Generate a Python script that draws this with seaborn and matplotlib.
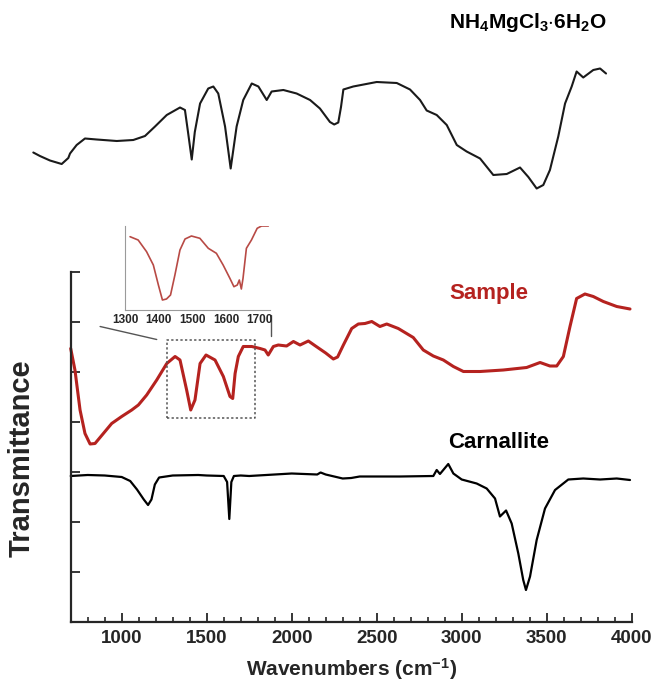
import numpy as np
import pandas as pd
import matplotlib
matplotlib.use("Agg")
import matplotlib.pyplot as plt
import seaborn as sns

# ---------------- data ----------------
# NH4MgCl3·6H2O (top, offset spectrum)
nh4_x = [480, 519, 578, 647, 686, 696, 735, 784, 853, 971, 1068, 1137, 1196, 1265, 1343,
         1372, 1390, 1412, 1430, 1461, 1509, 1539, 1568, 1608, 1641, 1676, 1715, 1765,
         1804, 1853, 1882, 1951, 2029, 2108, 2166, 2225, 2250, 2274, 2290, 2304, 2362,
         2500, 2618, 2696, 2755, 2794, 2853, 2912, 2971, 3029, 3108, 3186, 3265, 3343,
         3392, 3441, 3480, 3519, 3568, 3608, 3647, 3676, 3715, 3774, 3814, 3849]
nh4_y = [9.39, 9.32, 9.23, 9.16, 9.28, 9.37, 9.54, 9.67, 9.65, 9.62, 9.64, 9.72, 9.91, 10.14, 10.29,
         10.24, 9.80, 9.25, 9.80, 10.37, 10.67, 10.71, 10.57, 9.91, 9.07, 9.91, 10.44, 10.77,
         10.71, 10.44, 10.61, 10.64, 10.57, 10.44, 10.27, 10.00, 9.95, 9.99, 10.30, 10.65, 10.71,
         10.80, 10.78, 10.65, 10.44, 10.23, 10.14, 9.94, 9.54, 9.41, 9.27, 8.94, 8.96, 9.09,
         8.90, 8.67, 8.74, 9.04, 9.71, 10.37, 10.71, 11.01, 10.89, 11.04, 11.07, 10.97]

# Sample (red)
sample_x = [700, 725, 755, 784, 814, 843, 892, 941, 1000, 1059, 1098, 1147, 1206, 1265, 1314,
            1343, 1382, 1406, 1431, 1461, 1496, 1549, 1598, 1637, 1653, 1667, 1686, 1715,
            1765, 1814, 1843, 1862, 1892, 1921, 1970, 2010, 2049, 2098, 2140, 2200, 2245,
            2270, 2304, 2353, 2392, 2431, 2471, 2519, 2559, 2627, 2715, 2774, 2833, 2892,
            2951, 3010, 3108, 3245, 3382, 3461, 3519, 3559, 3598, 3637, 3676, 3725, 3774,
            3833, 3912, 3990]
sample_y = [5.47, 5.04, 4.24, 3.77, 3.56, 3.57, 3.77, 3.97, 4.11, 4.24, 4.34, 4.54, 4.84, 5.17, 5.31,
            5.24, 4.64, 4.24, 4.44, 5.17, 5.34, 5.24, 4.91, 4.51, 4.47, 4.97, 5.31, 5.51,
            5.51, 5.47, 5.44, 5.34, 5.51, 5.54, 5.52, 5.61, 5.54, 5.62, 5.52, 5.38, 5.26,
            5.30, 5.54, 5.87, 5.96, 5.97, 6.01, 5.91, 5.96, 5.87, 5.69, 5.44, 5.32, 5.24,
            5.11, 5.01, 5.01, 5.04, 5.09, 5.19, 5.12, 5.12, 5.31, 5.91, 6.47, 6.56, 6.51,
            6.41, 6.31, 6.26]

# Carnallite (black)
carn_x = [700, 800, 900, 1000, 1050, 1090, 1130, 1155, 1175, 1195, 1220, 1300, 1450, 1500,
          1600, 1620, 1633, 1645, 1660, 1700, 1750, 1850, 2000, 2150, 2170, 2200, 2300, 2350,
          2400, 2500, 2637, 2833, 2853, 2872, 2921, 2951, 3000, 3088, 3147, 3196, 3225,
          3261, 3294, 3333, 3362, 3378, 3402, 3441, 3490, 3549, 3627, 3715, 3814, 3912, 3990]
carn_y = [2.92, 2.94, 2.93, 2.90, 2.82, 2.65, 2.45, 2.34, 2.45, 2.75, 2.89, 2.93, 2.94, 2.93,
          2.92, 2.80, 2.06, 2.80, 2.92, 2.93, 2.92, 2.94, 2.97, 2.95, 2.99, 2.95, 2.87, 2.88,
          2.91, 2.91, 2.91, 2.92, 3.04, 2.96, 3.16, 2.97, 2.85, 2.77, 2.67, 2.47, 2.11,
          2.23, 1.97, 1.37, 0.84, 0.64, 0.91, 1.64, 2.27, 2.64, 2.85, 2.87, 2.85, 2.87, 2.84]

# Inset (zoom of the sample, 1300-1700 cm-1)
inset_x = [1315, 1339, 1364, 1384, 1399, 1411, 1423, 1435, 1448, 1463, 1478, 1497, 1522, 1547,
           1571, 1591, 1611, 1623, 1633, 1639, 1645, 1650, 1660, 1675, 1692, 1705, 1725]
inset_y = [7.33, 7.00, 5.83, 4.50, 2.50, 1.00, 1.10, 1.50, 3.50, 6.00, 7.10, 7.40, 7.17, 6.17,
           5.67, 4.50, 3.17, 2.33, 2.50, 3.00, 2.10, 3.17, 6.17, 7.00, 8.17, 8.40, 8.40]

x_ticks_major = [1000, 1500, 2000, 2500, 3000, 3500, 4000]
inset_ticks = [1300, 1400, 1500, 1600, 1700]

# zoom-box annotation geometry (in main-axes data units)
box_x = [1265, 1784]
box_y = [4.09, 5.63]
connector_1 = ([873, 1206], [5.91, 5.65])
connector_2 = ([1876, 1876], [6.14, 5.71])

# ---------------- style ----------------
sns.set_style("ticks")
plt.rcParams["font.family"] = ["Liberation Sans", "DejaVu Sans"]
plt.rcParams["font.weight"] = "bold"
plt.rcParams["mathtext.fontset"] = "custom"
plt.rcParams["mathtext.rm"] = "Liberation Sans:bold"
plt.rcParams["mathtext.bf"] = "Liberation Sans:bold"
plt.rcParams["mathtext.it"] = "Liberation Sans:bold"

RED = "#b5221f"

W, H = 653, 686
fig = plt.figure(figsize=(W / 100, H / 100), dpi=100)
ax_l, ax_r, ax_b, ax_t = 70.7, 631.7, 622, 272
ax = fig.add_axes([ax_l / W, (H - ax_b) / H, (ax_r - ax_l) / W, (ax_b - ax_t) / H])

df_nh4 = pd.DataFrame({"x": nh4_x, "y": nh4_y})
df_s = pd.DataFrame({"x": sample_x, "y": sample_y})
df_c = pd.DataFrame({"x": carn_x, "y": carn_y})

sns.lineplot(data=df_nh4, x="x", y="y", ax=ax, color="#1a1a1a", lw=1.5,
             estimator=None, sort=False, clip_on=False)
sns.lineplot(data=df_s, x="x", y="y", ax=ax, color=RED, lw=2.2,
             estimator=None, sort=False, clip_on=False)
sns.lineplot(data=df_c, x="x", y="y", ax=ax, color="black", lw=1.6,
             estimator=None, sort=False, clip_on=False)

ax.set_xlim(700, 4000)
ax.set_ylim(0, 7)
ax.set_xticks(x_ticks_major)
ax.set_xticks(np.arange(800, 4000, 100), minor=True)
ax.set_yticks(np.arange(0, 8, 1))
ax.set_yticklabels([])
ax.tick_params(axis="x", which="major", direction="in", length=6.5, width=1.3,
               labelsize=13.5, pad=6)
ax.tick_params(axis="x", which="minor", direction="in", length=3.5, width=1.2)
ax.tick_params(axis="y", which="major", direction="in", length=6.5, width=1.3)
for lab in ax.get_xticklabels():
    lab.set_fontweight("bold")
sns.despine(ax=ax, top=True, right=True)
for s in ["left", "bottom"]:
    ax.spines[s].set_linewidth(1.6)
ax.set_xlabel(r"Wavenumbers (cm$^{-1}$)", fontsize=15, fontweight="bold", labelpad=6)
ax.set_ylabel("Transmittance", fontsize=21, fontweight="bold")
ax.yaxis.set_label_coords(-0.063, 0.469)

# labels
ax.text(489 / W, 1 - 293 / H, "Sample", transform=fig.transFigure, color=RED,
        fontsize=16, fontweight="bold", ha="center", va="center")
ax.text(499 / W, 1 - 443 / H, "Carnallite", transform=fig.transFigure, color="black",
        fontsize=16, fontweight="bold", ha="center", va="center")
ax.text(528 / W, 1 - 23 / H, r"NH$_4$MgCl$_3$$\cdot$6H$_2$O", transform=fig.transFigure,
        color="black", fontsize=15, fontweight="bold", ha="center", va="center")

# dashed zoom box and connectors
ax.plot([box_x[0], box_x[1], box_x[1], box_x[0], box_x[0]],
        [box_y[0], box_y[0], box_y[1], box_y[1], box_y[0]],
        color="#555555", lw=1.1, ls=(0, (1.5, 1.5)), clip_on=False)
ax.plot(connector_1[0], connector_1[1], color="#555555", lw=1.0, clip_on=False)
ax.plot(connector_2[0], connector_2[1], color="#555555", lw=1.0, clip_on=False)

# inset
in_l, in_r, in_b, in_t = 125, 270, 310, 226
axi = fig.add_axes([in_l / W, (H - in_b) / H, (in_r - in_l) / W, (in_b - in_t) / H])
df_i = pd.DataFrame({"x": inset_x, "y": inset_y})
sns.lineplot(data=df_i, x="x", y="y", ax=axi, color="#b84a45", lw=1.2,
             estimator=None, sort=False)
axi.set_xlim(1300, 1730)
axi.set_ylim(0, 8.4)
axi.set_xticks(inset_ticks)
axi.set_yticks([])
axi.set_xlabel("")
axi.set_ylabel("")
axi.tick_params(axis="x", length=0, labelsize=8.5, pad=3)
for lab in axi.get_xticklabels():
    lab.set_fontweight("bold")
axi.patch.set_alpha(0)
for s in ["top", "right"]:
    axi.spines[s].set_visible(False)
for s in ["left", "bottom"]:
    axi.spines[s].set_color("#9a9a9a")
    axi.spines[s].set_linewidth(0.8)

fig.savefig("out.png", dpi=100)
